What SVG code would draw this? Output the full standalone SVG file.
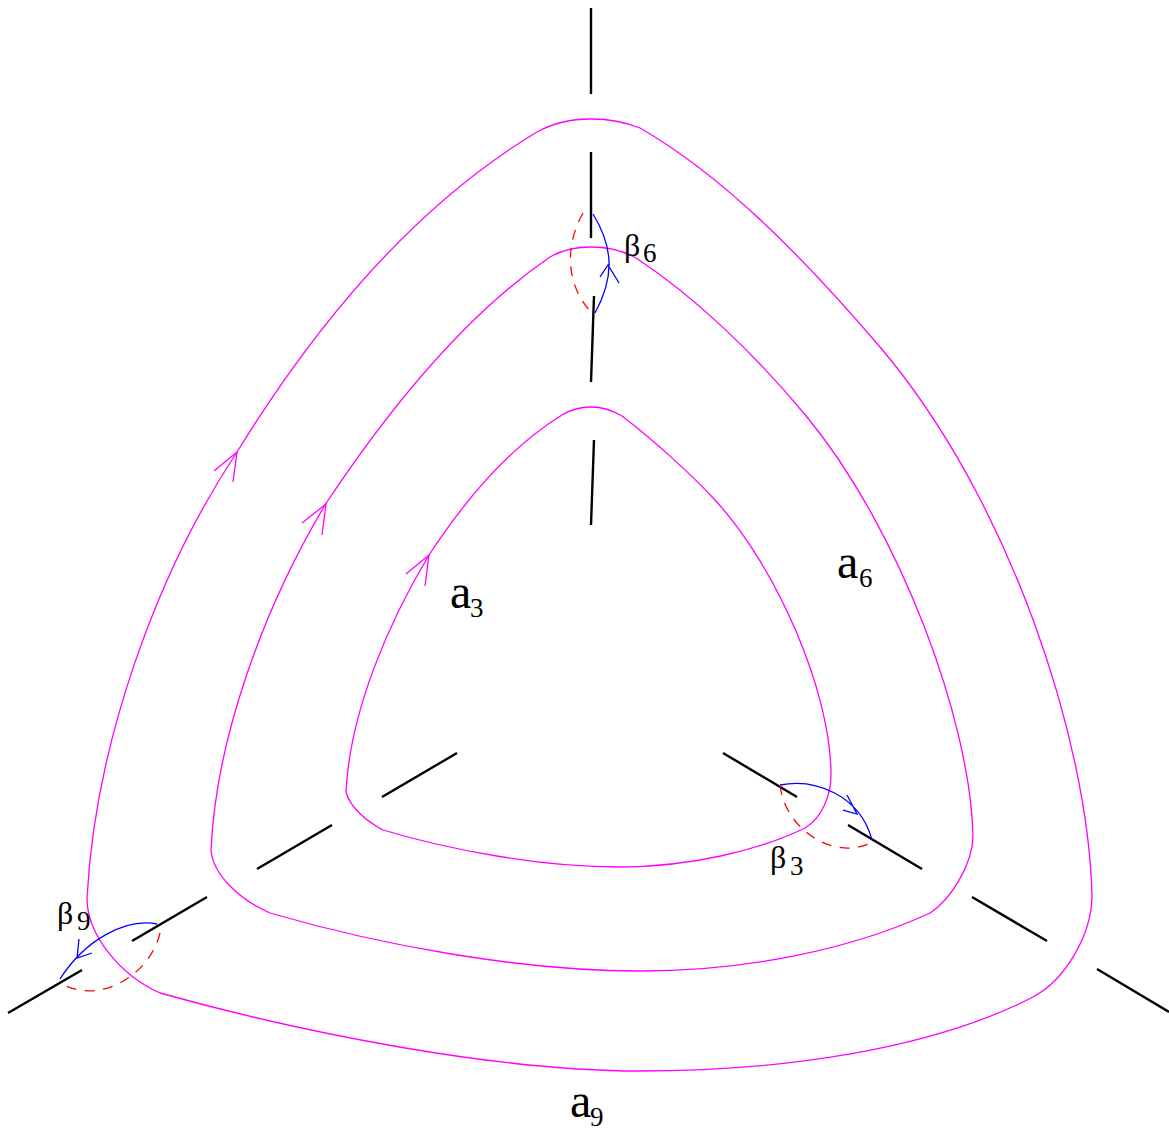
<svg xmlns="http://www.w3.org/2000/svg" width="1169" height="1130" viewBox="0 0 1169 1130">
<style>
.s{fill:none;stroke:#000;stroke-width:2.4}
.m{fill:none;stroke:#f0f;stroke-width:1.3}
.b{fill:none;stroke:#00f;stroke-width:1.3}
.r{fill:none;stroke:#f00;stroke-width:1.3;stroke-dasharray:10 8.5}
text{font-family:"Liberation Serif","Times New Roman",serif;fill:#000}
.a{font-size:48px}.i{font-size:27px}.g{font-size:32px}
</style>
<rect width="1169" height="1130" fill="#fff"/>
<g id="connectors">
<path class="s" d="M591 8V94M591 152V238M594 296L591 382M594 440L591 525M457 753L382 797M332 825L257 869M207 897L132 941M82 970L8 1013M723 753L797 797M848 825L922 869M972 897L1047 941M1097 969L1169 1012"/>
<path class="m" d="M591 119C575 119 555 122 537 132C412 207 314 327 237 452C156 574 95 745 87 898C87 935 120 975 160 993C310 1035 500 1071 640 1071C780 1071 930 1050 1033 997C1065 980 1092 935 1092 895C1088 740 1010 500 880 347C810 265 727 178 640 128C625 122 608 119 591 119Z"/>
<path class="m" d="M591 247C575 247 562 250 550 257C461 318 386 413 325 505C262 611 216 740 211 850C213 875 240 900 270 913C380 945 520 971 640 971C745 971 850 950 930 913C950 900 973 865 973 835C970 720 900 530 807 417C755 354 694 296 636 258C622 250 606 247 591 247Z"/>
<path class="m" d="M591 407C580 407 570 410 562 415C510 447 465 500 429 555C390 620 350 710 346 792C350 808 368 822 383 830C450 850 540 867 620 867C690 867 760 850 805 828C822 818 831 795 831 775C831 690 775 565 715 500C695 478 655 441 622 416C612 410 602 407 591 407Z"/>
<path class="m" d="M214 471L237 452L233 482M302 523L326 504L322 535M406 574L429 555L425 586"/>
<path class="b" d="M593 214C612 245 616 275 595 313M600 277L608 265L619 283"/>
<path class="r" d="M583 213C565 245 565 285 592 313"/>
<path class="b" d="M780 785C815 778 860 795 872 840M847 795L857 814L843 810"/>
<path class="r" d="M780 785C785 830 835 862 873 842"/>
<path class="b" d="M157 924C125 918 85 940 60 979M79 939L77 958L92 953"/>
<path class="r" d="M160 933C150 975 100 1005 62 984"/>
</g>
<g id="a3"><text class="a" x="450" y="608">a</text><text class="i" x="470" y="617">3</text></g>
<g id="a6"><text class="a" x="837" y="578">a</text><text class="i" x="859" y="587">6</text></g>
<g id="a9"><text class="a" x="570" y="1117">a</text><text class="i" x="590" y="1126">9</text></g>
<g id="b6"><text class="g" x="624" y="256">β</text><text class="i" x="643" y="262">6</text></g>
<g id="b3"><text class="g" x="770" y="868">β</text><text class="i" x="790" y="875">3</text></g>
<g id="b9"><text class="g" x="57" y="924">β</text><text class="i" x="77" y="930">9</text></g>
</svg>
